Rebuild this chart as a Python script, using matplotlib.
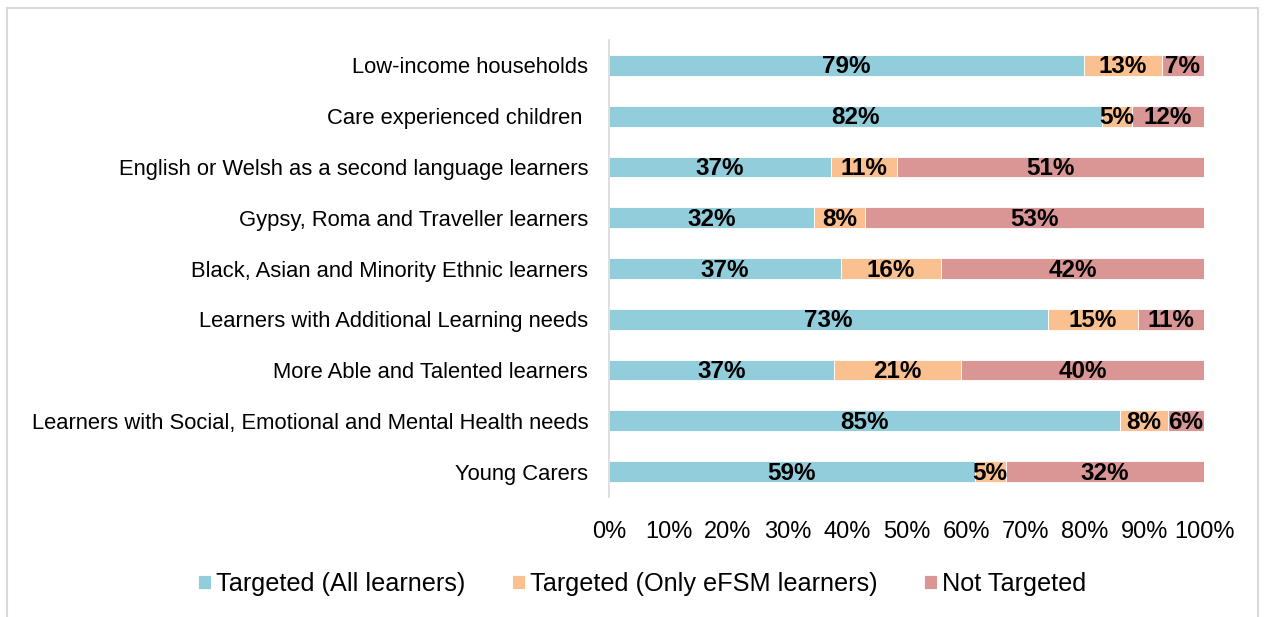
import numpy as np
import matplotlib.pyplot as plt
from matplotlib.patches import Rectangle

plt.rcParams['font.family'] = ['Liberation Sans', 'DejaVu Sans']

categories = [
    'Low-income households',
    'Care experienced children ',
    'English or Welsh as a second language learners',
    'Gypsy, Roma and Traveller learners',
    'Black, Asian and Minority Ethnic learners',
    'Learners with Additional Learning needs',
    'More Able and Talented learners',
    'Learners with Social, Emotional and Mental Health needs',
    'Young Carers',
]
all_learners = [79, 82, 37, 32, 37, 73, 37, 85, 59]
efsm_only = [13, 5, 11, 8, 16, 15, 21, 8, 5]
not_targeted = [7, 12, 51, 53, 42, 11, 40, 6, 32]

series_names = ['Targeted (All learners)', 'Targeted (Only eFSM learners)', 'Not Targeted']
colors = ['#92CDDC', '#FAC090', '#D99694']

fig = plt.figure(figsize=(12.66, 6.17), dpi=100)
ax = fig.add_axes([609 / 1266, 1 - 497 / 617, (1204 - 609) / 1266, (497 - 40) / 617])

# outer chart border
fig.patches.append(Rectangle((7 / 1266, -0.1), (1258 - 7) / 1266, 1.1 - 8 / 617,
                             transform=fig.transFigure, fill=False,
                             edgecolor='#D9D9D9', linewidth=1.5))

# 100% stacked: shares are normalised, labels show the raw values
data = np.array([all_learners, efsm_only, not_targeted], dtype=float)
totals = data.sum(axis=0)
shares = data / totals * 100
y = np.arange(len(categories))
left = np.zeros(len(categories))
handles = []
for vals, raw, name, c in zip(shares, data, series_names, colors):
    bars = ax.barh(y, vals, left=left, height=0.41, color=c, edgecolor='white',
                   linewidth=0.6, label=name)
    handles.append(bars)
    for yi, l, v, r in zip(y, left, vals, raw):
        ax.text(l + v / 2, yi + 0.03, f'{int(r)}%', ha='center', va='center',
                fontsize=17.5, fontweight='bold', color='black')
    left += vals

ax.set_xlim(0, 100)
ax.set_ylim(len(categories) - 0.5, -0.5)
ax.set_yticks(y)
ax.set_yticklabels(categories, fontsize=15.8)
ax.set_xticks(np.arange(0, 101, 10))
ax.set_xticklabels([f'{t}%' for t in range(0, 101, 10)], fontsize=17)
ax.tick_params(axis='both', length=0)
ax.tick_params(axis='y', pad=15)
ax.tick_params(axis='x', pad=17)
for s in ['top', 'right', 'bottom']:
    ax.spines[s].set_visible(False)
ax.spines['left'].set_color('#D9D9D9')
ax.spines['left'].set_linewidth(1.2)

fig.legend(handles=handles, loc='center', bbox_to_anchor=(642 / 1266, 1 - 584 / 617),
           ncol=3, frameon=False, fontsize=18.2, handlelength=0.5, handleheight=0.5,
           handletextpad=0.2, columnspacing=1.85)

fig.savefig('out.png', dpi=100)
